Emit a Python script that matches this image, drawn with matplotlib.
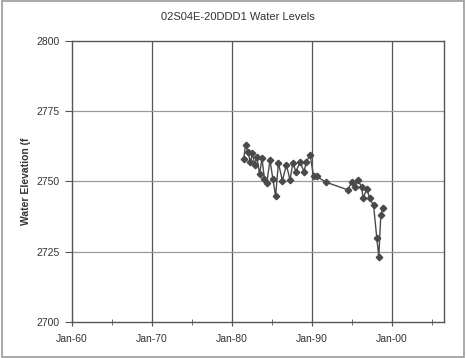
import matplotlib
matplotlib.use("Agg")
import matplotlib.pyplot as plt
from matplotlib.patches import Rectangle

plt.rcParams['font.family'] = ['Liberation Sans', 'DejaVu Sans']

title = "02S04E-20DDD1 Water Levels"
ylabel = "Water Elevation (f"

# decimal years and water elevations (ft)
years = [1981.45, 1981.7, 1982.0, 1982.3, 1982.55, 1982.85, 1983.1, 1983.45, 1983.75,
         1984.05, 1984.35, 1984.75, 1985.1, 1985.45, 1985.8, 1986.3, 1986.8, 1987.25,
         1987.6, 1988.0, 1988.5, 1989.0, 1989.3, 1989.75, 1990.2, 1990.6, 1991.7,
         1994.5, 1994.95, 1995.4, 1995.75, 1996.2, 1996.4, 1996.85, 1997.2, 1997.7,
         1998.1, 1998.35, 1998.6, 1998.85]
levels = [2758.0, 2763.0, 2760.5, 2756.8, 2760.0, 2756.0, 2758.8, 2752.5, 2758.2,
          2751.0, 2749.5, 2757.6, 2751.0, 2744.8, 2756.6, 2750.3, 2756.0, 2750.5,
          2756.6, 2753.5, 2757.0, 2753.5, 2757.0, 2759.5, 2752.0, 2751.8, 2749.8,
          2747.0, 2749.9, 2748.2, 2750.5, 2748.0, 2744.0, 2747.5, 2744.0, 2741.5,
          2729.8, 2723.2, 2738.0, 2740.5]

xticks = [1960, 1970, 1980, 1990, 2000]
xticklabels = ["Jan-60", "Jan-70", "Jan-80", "Jan-90", "Jan-00"]
xminor = [1965, 1975, 1985, 1995, 2005]
yticks = [2700, 2725, 2750, 2775, 2800]

fig = plt.figure(figsize=(4.66, 3.58), dpi=100)
fig.patch.set_facecolor('white')
fig.add_artist(Rectangle((0.004, 0.004), 0.992, 0.992, transform=fig.transFigure,
                         fill=False, edgecolor='#9a9a9a', linewidth=1.2))

ax = fig.add_axes([0.1545, 0.1006, 0.7983, 0.7849])
ax.set_xlim(1960, 2006.5)
ax.set_ylim(2700, 2800)

for x in xticks[1:]:
    ax.axvline(x, color='#555555', linewidth=0.9, zorder=1)
for y in yticks[1:-1]:
    ax.axhline(y, color='#9a9a9a', linewidth=0.9, zorder=1)

ax.plot(years, levels, color='#4a4a4a', linewidth=1.0, marker='D', markersize=3.3,
        markerfacecolor='#4a4a4a', markeredgecolor='#4a4a4a', zorder=3)

for s in ax.spines.values():
    s.set_color('#555555')
    s.set_linewidth(1.0)

ax.set_xticks(xticks)
ax.set_xticklabels(xticklabels)
ax.set_xticks(xminor, minor=True)
ax.set_yticks(yticks)
ax.set_yticklabels([str(v) for v in yticks])
ax.tick_params(axis='x', which='both', direction='inout', length=6, color='#555555',
               labelsize=7.5, labelcolor='#333333', pad=6)
ax.tick_params(axis='x', which='minor', length=5)
ax.tick_params(axis='y', direction='out', length=5, color='#555555',
               labelsize=7.5, labelcolor='#333333', pad=4)

ax.set_ylabel(ylabel, fontsize=7.5, fontweight='bold', color='#333333', labelpad=4)
fig.text(0.511, 0.952, title, ha='center', va='center', fontsize=8, color='#333333')

fig.savefig("out.png", dpi=100, facecolor=fig.get_facecolor())
